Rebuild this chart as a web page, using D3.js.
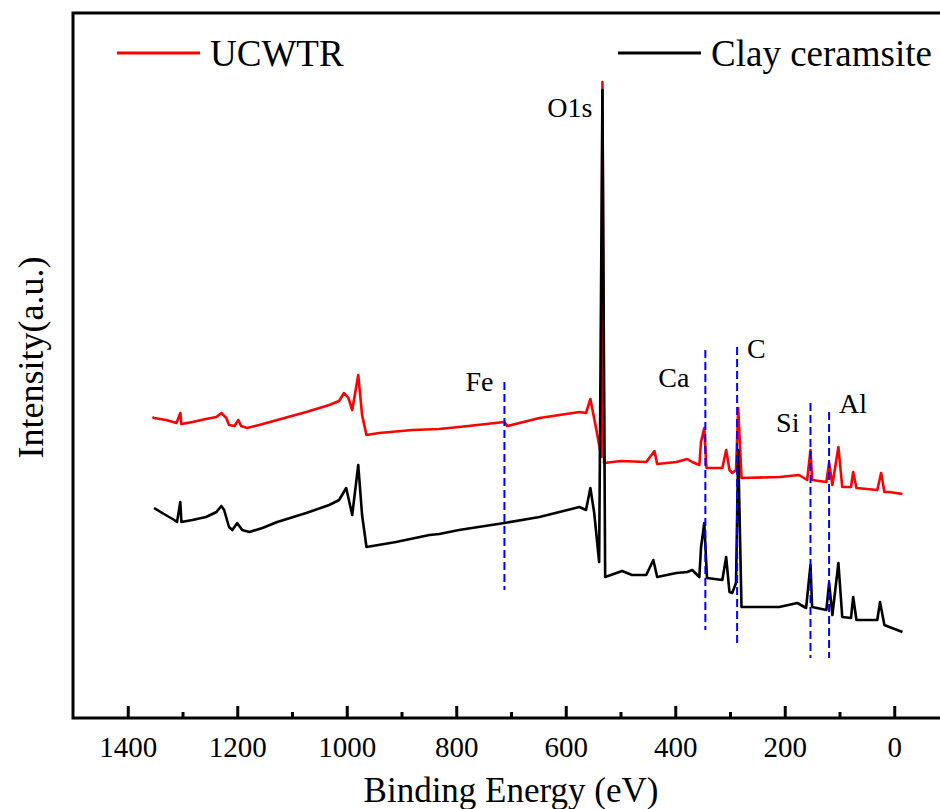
<!DOCTYPE html>
<html>
<head>
<meta charset="utf-8">
<script src="https://cdn.jsdelivr.net/npm/d3@7"></script>
<style>
  body { margin: 0; background: #fff; }
  text { font-family: "Liberation Serif", "Times New Roman", serif; fill: #000; }
</style>
</head>
<body>
<div id="container"></div>
<script>
// XPS survey spectra, binding energy (eV) vs intensity (a.u.)
const ucwtrEnergy = [1355, 1352, 1330, 1311, 1304, 1302, 1282, 1257, 1238, 1229, 1220, 1215, 1205, 1198, 1193,
    1182, 1160, 1127, 1074, 1032, 1014, 1005, 997, 990, 979, 972, 964, 941, 880, 831, 795, 712, 707, 648, 575,
    563, 555, 544, 535, 533, 530, 499, 453, 438, 433, 398, 378, 369, 356, 353, 347, 343, 314, 307, 301, 296, 289,
    285, 279, 210, 174, 159, 153, 150, 124, 119, 113, 102, 95, 79, 75, 69, 31, 24, 18, 9, -15]
const ucwtrIntensity = [602, 600, 596, 590, 610, 588, 592, 598, 602, 610, 600, 586, 584, 596, 584,
    580, 586, 596, 612, 626, 634, 650, 640, 616, 686, 606, 566, 570, 576, 578, 582, 592, 584, 600, 612,
    610, 638, 576, 522, 1272, 510, 514, 512, 534, 508, 512, 518, 512, 506, 552, 580, 500, 500, 536, 496, 490, 496,
    620, 480, 482, 486, 476, 536, 476, 472, 510, 466, 542, 462, 462, 492, 460, 456, 490, 452, 452, 448]

const clayEnergy = [1352, 1337, 1315, 1310, 1304, 1302, 1282, 1257, 1238, 1229, 1224, 1215, 1209, 1200, 1191,
    1178, 1154, 1127, 1074, 1032, 1014, 1001, 990, 979, 972, 964, 910, 849, 831, 795, 712, 648, 575, 563, 555,
    548, 539, 533, 528, 497, 479, 453, 440, 433, 398, 378, 369, 356, 353, 347, 342, 314, 307, 301, 296, 289, 285,
    279, 210, 177, 161, 153, 150, 124, 119, 113, 102, 95, 79, 75, 69, 31, 26, 18, 9, -15]
const clayIntensity = [420, 410, 396, 392, 432, 392, 396, 402, 412, 424, 416, 382, 376, 390, 376,
    372, 380, 392, 410, 426, 436, 460, 406, 506, 406, 342, 352, 366, 368, 376, 390, 402, 422, 416, 460,
    410, 312, 1256, 282, 294, 286, 286, 316, 282, 290, 292, 296, 282, 340, 390, 280, 276, 322, 252, 250, 270, 536,
    222, 222, 230, 220, 306, 222, 216, 270, 206, 310, 202, 200, 242, 196, 196, 232, 186, 182, 172]

const majorTicks = [1400, 1200, 1000, 800, 600, 400, 200, 0]
const minorTicks = [1300, 1100, 900, 700, 500, 300, 100]

// element reference lines: energy and the span of intensity they cover
const markerNames = ["Fe", "Ca", "C", "Si", "Al"]
const markerEnergy = [712, 345, 287, 153, 119]
const markerTop = [672, 736, 742, 630, 612]
const markerBottom = [256, 176, 146, 120, 120]

const seriesNames = ["UCWTR", "Clay ceramsite"]
const seriesColors = ["#ff0000", "#000000"]

const serif = "'Liberation Serif', 'Times New Roman', serif"
const width = 940
const height = 809
const margin = {left: 73, top: 13, bottom: 91}

const x = d3.scaleLinear()
    .domain([1500, -100])
    .range([margin.left, margin.left + 1600 * 0.5475])

const y = d3.scaleLinear()
    .domain([0, 1410])
    .range([height - margin.bottom, margin.top])

const svg = d3.select('#container')
    .append("svg")
    .attr("width", width)
    .attr("height", height)
    .style("font-family", serif)

svg.append("rect")
    .attr("width", width)
    .attr("height", height)
    .attr("fill", "#fff")

const line = d3.line()
    .x(d => x(d[0]))
    .y(d => y(d[1]))

const series = [
    d3.zip(ucwtrEnergy, ucwtrIntensity),
    d3.zip(clayEnergy, clayIntensity)
]

svg.append("g")
    .attr("fill", "none")
    .attr("stroke-width", 2.6)
    .attr("stroke-linejoin", "round")
    .selectAll("path")
    .data(series)
    .join("path")
    .attr("stroke", (d, i) => seriesColors[i])
    .attr("d", line)

// dashed element lines sit on top of the spectra
const markers = markerNames.map((name, i) => ({
    name, e: markerEnergy[i], top: markerTop[i], bottom: markerBottom[i]
}))

svg.append("g")
    .attr("stroke", "#0000ff")
    .attr("stroke-width", 2)
    .attr("stroke-dasharray", "8,4")
    .selectAll("line")
    .data(markers)
    .join("line")
    .attr("x1", d => x(d.e))
    .attr("x2", d => x(d.e))
    .attr("y1", d => y(d.top))
    .attr("y2", d => y(d.bottom))

const labelOffset = {
    Fe: {dx: -11, dy: 9, anchor: "end"},
    Ca: {dx: -16, dy: 37, anchor: "end"},
    C: {dx: 10, dy: 11, anchor: "start"},
    Si: {dx: -11, dy: 29, anchor: "end"},
    Al: {dx: 10, dy: 1, anchor: "start"}
}

svg.append("g")
    .selectAll("text")
    .data(markers)
    .join("text")
    .style("font-family", serif)
    .style("font-size", "28px")
    .attr("x", d => x(d.e) + labelOffset[d.name].dx)
    .attr("y", d => y(d.top) + labelOffset[d.name].dy)
    .attr("text-anchor", d => labelOffset[d.name].anchor)
    .text(d => d.name)

// O1s label next to the main peak
const o1sIndex = ucwtrIntensity.indexOf(d3.max(ucwtrIntensity))
svg.append("text")
    .style("font-family", serif)
    .style("font-size", "28px")
    .attr("text-anchor", "end")
    .attr("x", x(ucwtrEnergy[o1sIndex]) - 10)
    .attr("y", y(ucwtrIntensity[o1sIndex]) + 35)
    .text("O1s")

// frame
svg.append("rect")
    .attr("x", x(1500))
    .attr("y", y(1410))
    .attr("width", x(-100) - x(1500))
    .attr("height", y(0) - y(1410))
    .attr("fill", "none")
    .attr("stroke", "#000")
    .attr("stroke-width", 3)

const xAxis = svg.append("g")
    .attr("transform", `translate(0,${y(0)})`)
    .call(d3.axisBottom(x).tickValues(majorTicks).tickSize(-12).tickPadding(18).tickFormat(d3.format("d")))
xAxis.attr("font-family", null).attr("font-size", null)
xAxis.select(".domain").remove()
xAxis.selectAll(".tick line").attr("stroke-width", 3)
xAxis.selectAll(".tick text")
    .style("font-family", serif)
    .style("font-size", "29px")

const xMinor = svg.append("g")
    .attr("transform", `translate(0,${y(0)})`)
    .call(d3.axisBottom(x).tickValues(minorTicks).tickSize(-6).tickFormat(""))
xMinor.select(".domain").remove()
xMinor.selectAll(".tick line").attr("stroke-width", 3)

svg.append("text")
    .style("font-family", serif)
    .style("font-size", "35px")
    .attr("x", (x(1500) + x(-100)) / 2)
    .attr("y", 802)
    .attr("text-anchor", "middle")
    .text("Binding Energy (eV)")

svg.append("text")
    .style("font-family", serif)
    .style("font-size", "36px")
    .attr("transform", `translate(43,${(y(0) + y(1410)) / 2 - 8}) rotate(-90)`)
    .attr("text-anchor", "middle")
    .text("Intensity(a.u.)")

// legend
const legendX = [117, 618]
const legend = svg.append("g")
    .selectAll("g")
    .data(seriesNames)
    .join("g")
    .attr("transform", (d, i) => `translate(${legendX[i]},53)`)

legend.append("line")
    .attr("x2", 83)
    .attr("stroke", (d, i) => seriesColors[i])
    .attr("stroke-width", 3)

legend.append("text")
    .style("font-family", serif)
    .style("font-size", "37px")
    .attr("x", 93)
    .attr("y", 13)
    .text(d => d)
</script>
</body>
</html>
